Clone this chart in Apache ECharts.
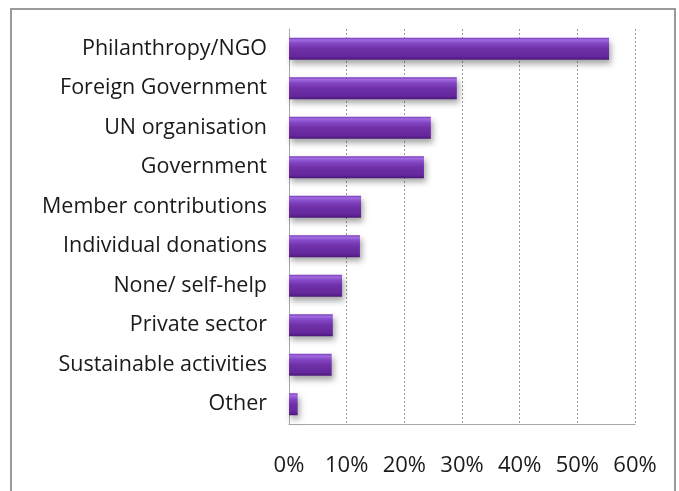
<!DOCTYPE html>
<html>
<head>
<meta charset="utf-8">
<script src="https://cdn.jsdelivr.net/npm/echarts@6/dist/echarts.min.js"></script>
<style>html,body{margin:0;padding:0;background:#fff}#c{width:679px;height:491px}</style>
</head>
<body>
<div id="c"></div>
<script>
var categories = ["Philanthropy/NGO","Foreign Government","UN organisation","Government","Member contributions","Individual donations","None/ self-help","Private sector","Sustainable activities","Other"];
var values = [55.5, 29.1, 24.6, 23.4, 12.5, 12.3, 9.2, 7.6, 7.4, 1.5];
var tickValues = [0, 10, 20, 30, 40, 50, 60];

var chart = echarts.init(document.getElementById('c'), null, {renderer:'canvas'});
chart.setOption({
  animation: false,
  backgroundColor: '#ffffff',
  graphic: [{
    type: 'rect', shape: {x: 11, y: 9, width: 664, height: 500},
    style: {fill: 'none', stroke: '#9a9a9a', lineWidth: 2}, silent: true, z: 100
  }],
  grid: {left: 289, right: 44, top: 29, bottom: 67, containLabel: false},
  xAxis: {
    type: 'value', min: tickValues[0], max: tickValues[tickValues.length-1], interval: 10,
    axisLine: {show: true, lineStyle: {color: '#a6a6a6', width: 1}},
    axisTick: {show: false},
    splitLine: {show: true, lineStyle: {color: '#9a9a9a', type: [2, 2], width: 1}},
    axisLabel: {formatter: '{value}%', color: '#1a1a1a', fontSize: 22, fontFamily: 'Open Sans', margin: 31}
  },
  yAxis: {
    type: 'category', data: categories, inverse: true,
    axisLine: {show: true, lineStyle: {color: '#a6a6a6', width: 1}},
    axisTick: {show: false},
    splitLine: {show: false},
    axisLabel: {color: '#1a1a1a', fontSize: 21.5, fontFamily: 'Open Sans', margin: 22}
  },
  series: [{
    type: 'bar', data: values, barWidth: 22,
    itemStyle: {
      color: new echarts.graphic.LinearGradient(0, 0, 0, 1, [
        {offset: 0, color: '#7a3cb8'},
        {offset: 0.1, color: '#a06ae0'},
        {offset: 0.25, color: '#8548c6'},
        {offset: 0.5, color: '#7030a8'},
        {offset: 0.85, color: '#65279c'},
        {offset: 1, color: '#4a1878'}
      ]),
      shadowColor: 'rgba(0,0,0,0.35)', shadowBlur: 6, shadowOffsetX: 2, shadowOffsetY: 4
    }
  }]
});
</script>
</body>
</html>
